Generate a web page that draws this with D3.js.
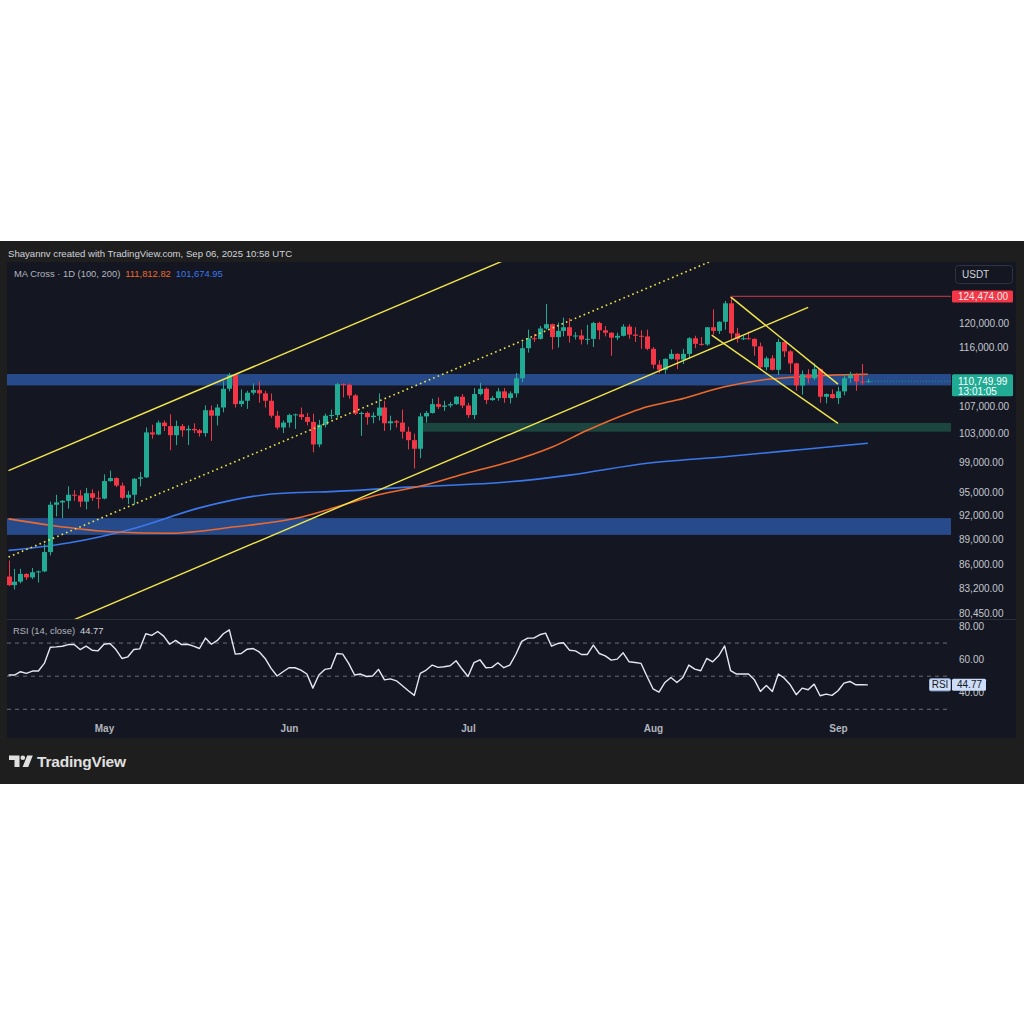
<!DOCTYPE html>
<html><head><meta charset="utf-8">
<script src="https://cdn.jsdelivr.net/npm/d3@7"></script>
<style>html,body{margin:0;padding:0;background:#fff;}svg{display:block;font-family:"Liberation Sans",Arial,sans-serif;}</style>
</head><body><svg id="c" width="1024" height="1024"></svg>
<script>
// ---------------- DATA (prices in thousands USDT) ----------------
const firstDay = "2025-04-15";
const opens = [
 84.6,83.6,84.0,84.9,84.5,85.1,85.2,87.5,93.4,93.7,93.9,94.7,94.6,93.8,94.9,94.3,
 94.2,96.5,96.9,95.9,94.3,94.7,96.8,97.0,103.2,102.9,104.6,104.1,102.8,104.1,103.5,103.7,103.5,103.1,106.4,105.6,106.8,109.6,111.7,107.3,107.8,109.0,109.4,108.9,107.8,105.6,103.9,
 104.6,105.7,105.8,105.4,104.7,101.5,104.3,105.6,105.7,110.3,110.2,108.6,105.9,106.0,105.4,105.6,106.8,104.5,104.8,104.6,103.3,102.1,100.9,105.5,106.0,107.3,106.9,107.1,107.3,108.4,
 107.1,105.7,108.8,109.6,107.9,108.2,109.2,108.2,108.9,111.2,115.9,117.5,117.4,119.1,119.8,117.7,118.7,119.3,117.9,117.95,117.3,117.4,120.0,118.8,118.4,117.6,117.9,119.4,118.1,117.9,117.8,
 115.8,113.3,112.5,114.2,115.0,114.1,115.0,117.5,116.6,116.5,119.3,118.7,120.2,123.3,118.3,117.4,117.5,117.4,116.2,112.9,114.3,112.5,116.9,115.4,113.5,110.1,111.8,111.2,112.6,108.4,108.8,
 108.2,109.2,111.2,111.7,110.7,110.6];
const highs = [
 86.5,85.5,85.5,85.0,85.6,85.3,88.5,93.8,94.7,94.0,95.8,95.3,95.3,95.6,95.4,95.2,
 97.4,97.9,97.0,96.3,95.2,96.9,97.7,103.9,104.3,104.9,104.9,105.8,104.9,104.4,104.2,104.5,103.7,107.1,107.1,107.3,110.8,112.0,111.8,109.5,109.3,110.4,110.7,109.3,108.9,106.3,104.9,
 105.9,105.9,106.8,106.0,105.9,105.0,105.9,106.5,110.5,110.4,110.4,108.8,106.2,106.2,106.1,108.9,107.8,105.6,105.0,106.5,104.0,103.0,106.0,106.3,108.1,108.3,107.8,107.6,108.5,108.8,
 107.5,109.7,110.5,109.8,108.5,109.7,109.7,109.2,112.0,116.9,118.9,118.2,119.5,123.2,119.9,120.1,120.9,120.8,118.5,118.9,119.7,120.2,120.2,119.5,118.5,118.4,119.8,119.8,119.3,118.8,118.9,
 116.1,114.0,114.3,115.7,115.1,115.8,117.7,117.9,117.7,119.3,122.3,120.3,123.7,124.474,119.2,117.9,118.6,117.5,116.8,114.6,114.8,117.4,117.0,115.6,113.6,112.4,112.6,113.5,112.7,108.9,109.5,
 109.9,111.8,112.2,112.0,113.4,111.1];
const lows = [
 83.5,83.1,83.8,84.2,84.3,83.9,85.1,87.1,91.9,91.7,92.9,93.9,93.1,92.8,93.9,92.9,
 94.1,96.4,95.7,94.1,93.5,93.4,95.8,96.9,102.3,102.8,103.4,100.7,101.4,102.6,101.4,103.1,102.6,102.6,102.0,104.2,106.1,109.2,106.8,106.9,106.6,108.7,107.5,106.8,105.3,103.6,103.1,
 103.9,103.7,105.0,104.2,100.4,101.1,103.9,105.1,105.3,108.3,108.1,105.7,102.7,104.3,104.5,104.9,103.4,103.5,103.9,102.3,100.8,98.2,99.6,104.6,105.9,106.6,106.3,106.8,107.2,106.7,
 105.3,105.1,108.6,107.3,107.8,107.8,107.5,107.4,108.3,110.6,115.2,116.9,117.3,118.9,115.7,116.0,117.8,116.8,117.3,116.5,116.5,116.1,117.3,117.8,114.7,117.2,117.8,117.4,116.9,115.8,115.6,
 112.7,112.0,111.9,114.1,112.6,113.4,114.3,115.9,116.3,116.3,118.1,118.2,118.9,117.2,116.8,117.2,117.3,114.7,112.7,112.4,112.4,111.7,114.5,112.0,109.3,108.7,110.4,110.9,107.5,107.4,108.1,
 107.3,108.6,110.5,109.3,110.2,110.5];
const closes = [
 83.6,84.0,84.9,84.5,85.1,85.2,87.5,93.4,93.7,93.9,94.7,94.6,93.8,94.9,94.3,94.2,
 96.5,96.9,95.9,94.3,94.7,96.8,97.0,103.2,102.9,104.6,104.1,102.8,104.1,103.5,103.7,103.5,103.1,106.4,105.6,106.8,109.6,111.7,107.3,107.8,109.0,109.4,108.9,107.8,105.6,103.9,104.6,
 105.7,105.8,105.4,104.7,101.5,104.3,105.6,105.7,110.3,110.2,108.6,105.9,106.0,105.4,105.6,106.8,104.5,104.8,104.6,103.3,102.1,100.9,105.5,106.0,107.3,106.9,107.1,107.3,108.4,107.1,
 105.7,108.8,109.6,107.9,108.2,109.2,108.2,108.9,111.2,115.9,117.5,117.4,119.1,119.8,117.7,118.7,119.3,117.9,117.95,117.3,117.4,120.0,118.8,118.4,117.6,117.9,119.4,118.1,117.9,117.8,115.8,
 113.3,112.5,114.2,115.0,114.1,115.0,117.5,116.6,116.5,119.3,118.7,120.2,123.3,118.3,117.4,117.5,117.4,116.2,112.9,114.3,112.5,116.9,115.4,113.5,110.1,111.8,111.2,112.6,108.4,108.8,108.2,
 109.2,111.2,111.7,110.7,110.6,110.74999];
const rsiValues = [
 50.7,50.7,52.7,51.7,53.1,53.1,57.7,67.5,67.7,68.1,69.1,69.1,66.1,68.1,65.7,65.3,
 69.3,69.7,66.1,60.7,61.7,66.1,66.5,75.6,74.6,77.0,74.2,69.3,71.6,69.1,69.3,68.1,66.7,73.0,69.3,71.6,75.6,78.0,63.3,63.7,66.3,66.7,64.7,60.7,54.7,50.1,52.7,
 55.1,55.1,53.7,51.3,42.8,50.7,54.1,54.7,63.7,63.3,57.7,50.7,51.3,49.8,50.1,54.1,47.8,48.4,47.2,44.2,41.2,38.4,51.7,53.7,56.7,55.3,55.7,56.3,59.3,54.3,
 49.8,58.2,59.9,55.1,55.3,58.1,55.1,56.7,63.1,71.0,73.0,73.0,75.0,76.0,68.1,69.7,70.2,65.7,65.3,63.1,63.1,68.7,63.7,62.3,59.7,60.3,64.1,58.7,58.3,57.7,49.8,
 42.4,40.4,46.2,49.2,46.2,49.2,56.7,54.3,53.3,60.7,58.7,62.3,68.3,53.3,51.3,51.3,51.3,47.8,40.8,44.4,40.8,51.3,48.8,44.8,38.8,42.8,41.8,45.2,38.2,39.2,38.4,
 41.2,45.8,46.8,44.8,44.8,44.77];

const ma100Dates = ["2025-04-15","2025-04-22","2025-05-03","2025-05-12","2025-05-23","2025-06-03","2025-06-11","2025-06-16","2025-06-24","2025-07-01","2025-07-08","2025-07-15","2025-07-21","2025-07-28","2025-07-31","2025-08-05","2025-08-13","2025-08-19","2025-08-25","2025-09-06"];
const ma100Values = [91.6,90.8,89.95,89.8,90.6,91.8,93.6,94.7,96.0,97.6,99.1,101.1,103.5,106.0,106.9,107.9,109.9,110.9,111.4,111.81282];
const ma200Dates = ["2025-04-15","2025-04-25","2025-05-06","2025-05-17","2025-05-28","2025-06-03","2025-06-08","2025-06-21","2025-07-08","2025-07-18","2025-07-31","2025-08-13","2025-08-26","2025-09-06"];
const ma200Values = [87.7,88.6,90.4,93.0,94.7,95.0,95.1,95.7,96.4,97.3,98.9,99.8,100.8,101.67495];

const priceTicks = [120000,116000,107000,103000,99000,95000,92000,89000,86000,83200,80450];
const rsiTicks = [80,60,40];
const rsiLevels = [70,50,30];
const monthTicks = ["2025-05-01","2025-06-01","2025-07-01","2025-08-01","2025-09-01"];

// drawings: [startDate, endDate], [startPrice, endPrice]
const upperChannelDates = ["2025-04-15","2025-07-24"], upperChannelPrices = [97900,138800];
const midChannelDates = ["2025-04-15","2025-08-13"], midChannelPrices = [86900,131700];
const lowerChannelDates = ["2025-04-15","2025-08-27"], lowerChannelPrices = [76700,122600];
const wedgeUpperDates = ["2025-08-14","2025-09-01"], wedgeUpperPrices = [124400,110300];
const wedgeLowerDates = ["2025-08-10T20:00:00Z","2025-09-01"], wedgeLowerPrices = [118000,104500];
const athDates = ["2025-08-14","2025-10-20"], athPrice = 124474;
// zones: start, end, low, high
const zoneStarts = ["2025-04-01","2025-06-23T10:00:00Z","2025-04-01"];
const zoneEnds = ["2025-10-20","2025-10-20","2025-10-20"];
const zoneLows = [110100,103300,89600];
const zoneHighs = [111850,104550,91700];
const zoneColors = ["#274b8a","#1c4540","#274b8a"];
const lastPrice = 110749.99, countdown = "13:01:05";
const ma100Last = 111812.82, ma200Last = 101674.95, rsiLast = 44.77;

// ---------------- CHART ----------------
const svg = d3.select("#c");
const UP = "#22ab94", DOWN = "#f23645", TXT = "#b2b5be";
const parse = s => new Date(s.length > 10 ? s : s + "T00:00:00Z");
const day0 = parse(firstDay);
const candles = closes.map((c, i) => ({date: d3.utcDay.offset(day0, i), o: opens[i]*1000, h: highs[i]*1000, l: lows[i]*1000, c: c*1000, r: rsiValues[i]}));

const x = d3.scaleUtc().domain([parse("2025-05-01"), parse("2025-09-01")]).range([104, 838]);
const y = d3.scaleLog().domain([80450, 120000]).range([613, 323]);
const yr = d3.scaleLinear().domain([30, 80]).range([709.3, 626.5]);

svg.append("rect").attr("width", 1024).attr("height", 1024).attr("fill", "#ffffff");
svg.append("rect").attr("x", 0).attr("y", 241).attr("width", 1024).attr("height", 543).attr("fill", "#1e1e1e");
svg.append("rect").attr("x", 7).attr("y", 262).attr("width", 1009).attr("height", 476).attr("fill", "#141722");

const defs = svg.append("defs");
defs.append("clipPath").attr("id", "pc").append("rect").attr("x", 7).attr("y", 262).attr("width", 944).attr("height", 357);
defs.append("clipPath").attr("id", "rc").append("rect").attr("x", 7).attr("y", 620).attr("width", 944).attr("height", 118);

svg.append("line").attr("x1", 7).attr("x2", 1016).attr("y1", 619.5).attr("y2", 619.5).attr("stroke", "#2a2e39");

const gp = svg.append("g").attr("clip-path", "url(#pc)");

gp.selectAll("rect.zone").data(zoneLows).join("rect").attr("class", "zone")
  .attr("x", (d, i) => x(parse(zoneStarts[i])))
  .attr("width", (d, i) => x(parse(zoneEnds[i])) - x(parse(zoneStarts[i])))
  .attr("y", (d, i) => y(zoneHighs[i]))
  .attr("height", (d, i) => y(zoneLows[i]) - y(zoneHighs[i]))
  .attr("fill", (d, i) => zoneColors[i]);

const maLine = d3.line().x(d => x(d[0])).y(d => y(d[1])).curve(d3.curveMonotoneX);
gp.append("path").attr("d", maLine(ma200Dates.map((d, i) => [parse(d), ma200Values[i]*1000])))
  .attr("fill", "none").attr("stroke", "#3b78ec").attr("stroke-width", 1.6);
gp.append("path").attr("d", maLine(ma100Dates.map((d, i) => [parse(d), ma100Values[i]*1000])))
  .attr("fill", "none").attr("stroke", "#ec6a2e").attr("stroke-width", 1.6);

const gc = gp.append("g");
gc.selectAll("line").data(candles).join("line")
  .attr("x1", d => Math.round(x(d.date)) + 0.5).attr("x2", d => Math.round(x(d.date)) + 0.5)
  .attr("y1", d => y(d.h)).attr("y2", d => y(d.l))
  .attr("stroke", d => d.c >= d.o ? UP : DOWN).attr("stroke-width", 1);
gc.selectAll("rect").data(candles).join("rect")
  .attr("x", d => Math.round(x(d.date)) - 2).attr("width", 5)
  .attr("y", d => y(Math.max(d.o, d.c)))
  .attr("height", d => Math.max(1, Math.abs(y(d.o) - y(d.c))))
  .attr("fill", d => d.c >= d.o ? UP : DOWN);

const seg = (dates, prices) => d3.line().x(d => x(d[0])).y(d => y(d[1]))(dates.map((d, i) => [parse(d), prices[i]]));
const YEL = "#f2e64b";
gp.append("path").attr("d", seg(upperChannelDates, upperChannelPrices)).attr("stroke", YEL).attr("stroke-width", 1.4).attr("fill", "none");
gp.append("path").attr("d", seg(lowerChannelDates, lowerChannelPrices)).attr("stroke", YEL).attr("stroke-width", 1.4).attr("fill", "none");
gp.append("path").attr("d", seg(midChannelDates, midChannelPrices)).attr("stroke", YEL).attr("stroke-width", 1.6).attr("stroke-dasharray", "1.6 3.2").attr("fill", "none");
gp.append("path").attr("d", seg(wedgeUpperDates, wedgeUpperPrices)).attr("stroke", YEL).attr("stroke-width", 1.4).attr("fill", "none");
gp.append("path").attr("d", seg(wedgeLowerDates, wedgeLowerPrices)).attr("stroke", YEL).attr("stroke-width", 1.4).attr("fill", "none");
gp.append("path").attr("d", seg(athDates, [athPrice, athPrice])).attr("stroke", "#a8323e").attr("stroke-width", 1.2).attr("fill", "none");

const lastC = candles[candles.length - 1];
gp.append("line").attr("x1", x(lastC.date) + 4).attr("x2", 951).attr("y1", y(lastPrice)).attr("y2", y(lastPrice))
  .attr("stroke", UP).attr("stroke-dasharray", "1 2").attr("opacity", 0.8);

// price axis
const ax = svg.append("g").attr("transform", "translate(952,0)")
  .call(d3.axisRight(y).tickValues(priceTicks).tickFormat(d3.format(",.2f")).tickSize(0).tickPadding(7));
ax.select(".domain").remove();
ax.selectAll("text").attr("fill", "#c3c6ce").attr("font-size", 10).attr("font-family", "Liberation Sans, Arial, sans-serif");

svg.append("rect").attr("x", 955.5).attr("y", 265.5).attr("width", 57).attr("height", 18).attr("rx", 3).attr("fill", "#141722").attr("stroke", "#2f3340");
svg.append("text").attr("x", 962).attr("y", 278).attr("fill", "#d1d4dc").attr("font-size", 10).text("USDT");

svg.append("rect").attr("x", 952).attr("y", y(athPrice) - 6).attr("width", 61).attr("height", 12).attr("rx", 1.5).attr("fill", DOWN);
svg.append("text").attr("x", 958).attr("y", y(athPrice) + 3.6).attr("fill", "#ffe8ea").attr("font-size", 10).text(d3.format(",.2f")(athPrice));

svg.append("rect").attr("x", 952).attr("y", y(lastPrice) - 7).attr("width", 61).attr("height", 22).attr("rx", 1.5).attr("fill", UP);
svg.append("text").attr("x", 958).attr("y", y(lastPrice) + 3.4).attr("fill", "#ffffff").attr("font-size", 10).text(d3.format(",.2f")(lastPrice));
svg.append("text").attr("x", 958).attr("y", y(lastPrice) + 13.6).attr("fill", "#ffffff").attr("font-size", 10).text(countdown);

// RSI pane
const gr = svg.append("g").attr("clip-path", "url(#rc)");
gr.selectAll("line.lvl").data(rsiLevels).join("line").attr("class", "lvl")
  .attr("x1", 7).attr("x2", 951).attr("y1", d => yr(d)).attr("y2", d => yr(d))
  .attr("stroke", "#6a6d78").attr("stroke-dasharray", "4 4").attr("stroke-width", 1);
gr.append("path").attr("d", d3.line().x(d => x(d.date)).y(d => yr(d.r))(candles))
  .attr("fill", "none").attr("stroke", "#e4e8f2").attr("stroke-width", 1.4).attr("stroke-linejoin", "round");

const ar = svg.append("g").attr("transform", "translate(952,0)")
  .call(d3.axisRight(yr).tickValues(rsiTicks).tickFormat(d3.format(".2f")).tickSize(0).tickPadding(7));
ar.select(".domain").remove();
ar.selectAll("text").attr("fill", "#c3c6ce").attr("font-size", 10).attr("font-family", "Liberation Sans, Arial, sans-serif");

svg.append("rect").attr("x", 929.5).attr("y", yr(rsiLast) - 6).attr("width", 21).attr("height", 12).attr("rx", 1.5).attr("fill", "#cddcf7").attr("stroke", "#9fb4dc");
svg.append("text").attr("x", 940).attr("y", yr(rsiLast) + 3.6).attr("text-anchor", "middle").attr("fill", "#131722").attr("font-size", 10).text("RSI");
svg.append("rect").attr("x", 952).attr("y", yr(rsiLast) - 6).attr("width", 34).attr("height", 12).attr("rx", 1.5).attr("fill", "#cddcf7");
svg.append("text").attr("x", 957).attr("y", yr(rsiLast) + 3.6).attr("fill", "#131722").attr("font-size", 10).text(d3.format(".2f")(rsiLast));

// time axis
const xa = svg.append("g").attr("transform", "translate(0,722)")
  .call(d3.axisBottom(x).tickValues(monthTicks.map(parse)).tickFormat(d3.utcFormat("%b")).tickSize(0).tickPadding(3));
xa.select(".domain").remove();
xa.selectAll("text").attr("fill", TXT).attr("font-size", 10).attr("font-weight", "bold").attr("font-family", "Liberation Sans, Arial, sans-serif");

// header & legends
svg.append("text").attr("x", 8).attr("y", 257).attr("fill", "#d1d4dc").attr("font-size", 9.6)
  .text("Shayannv created with TradingView.com, Sep 06, 2025 10:58 UTC");
const lg = svg.append("text").attr("x", 14).attr("y", 277).attr("font-size", 9.4);
lg.append("tspan").attr("fill", TXT).text("MA Cross · 1D (100, 200)");
lg.append("tspan").attr("dx", 5).attr("fill", "#ec6a2e").text(d3.format(",.2f")(ma100Last));
lg.append("tspan").attr("dx", 5).attr("fill", "#3b78ec").text(d3.format(",.2f")(ma200Last));
const rl = svg.append("text").attr("x", 13).attr("y", 634).attr("font-size", 9.4);
rl.append("tspan").attr("fill", TXT).text("RSI (14, close)");
rl.append("tspan").attr("dx", 5).attr("fill", "#d1d4dc").text(d3.format(".2f")(rsiLast));

// TradingView footer
const lgo = svg.append("g").attr("fill", "#e0e0e0");
lgo.append("path").attr("d", "M9,755.5 h10.5 v11.5 h-5 v-7 h-5.5 z");
lgo.append("circle").attr("cx", 22.8).attr("cy", 757.8).attr("r", 2.3);
lgo.append("path").attr("d", "M27.2,755.5 h5.6 l-4.6,11.5 h-5.6 z");
svg.append("text").attr("x", 37).attr("y", 767).attr("fill", "#e0e0e0").attr("font-size", 15.5).attr("font-weight", "bold").attr("letter-spacing", -0.2).text("TradingView");
</script></body></html>
